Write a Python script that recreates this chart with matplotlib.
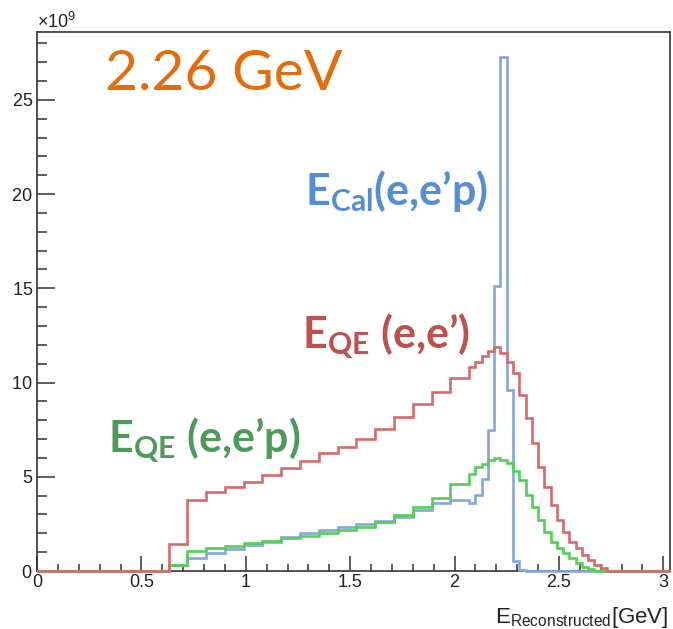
import numpy as np
import matplotlib
matplotlib.use("Agg")
import matplotlib.pyplot as plt
import matplotlib.ticker as ticker

plt.rcParams['font.family'] = ['Liberation Sans', 'DejaVu Sans']
plt.rcParams['mathtext.fontset'] = 'custom'
plt.rcParams['mathtext.rm'] = 'Liberation Sans'
plt.rcParams['mathtext.bf'] = 'Lato:bold'

# bin edges of the reconstructed energy histograms [GeV]
edges = [0.0, 0.63, 0.72, 0.81, 0.90, 0.99, 1.08, 1.17, 1.26, 1.35, 1.44, 1.53,
         1.62, 1.71, 1.80, 1.89, 1.98, 2.07, 2.10, 2.13, 2.16, 2.19, 2.22, 2.25,
         2.28, 2.31, 2.34, 2.37, 2.40, 2.43, 2.46, 2.49, 2.52, 2.55, 2.58, 2.61,
         2.64, 2.67, 2.70, 2.73, 2.76, 3.03]

# bin contents in units of 1e9
e_qe_ee = [0, 1.43, 3.77, 4.2, 4.47, 4.74, 5.09, 5.45, 5.83, 6.24, 6.56, 6.99,
           7.52, 8.15, 8.86, 9.51, 10.22, 10.84, 11.1, 11.4, 11.7, 11.87, 11.55,
           11.1, 10.49, 9.34, 8.1, 6.77, 5.53, 4.47, 3.5, 2.7, 2.08, 1.55, 1.2,
           0.85, 0.58, 0.32, 0.14, 0, 0]
e_qe_eep = [0, 0.33, 1.06, 1.2, 1.33, 1.47, 1.61, 1.73, 1.86, 2.0, 2.18, 2.35,
            2.62, 2.95, 3.38, 3.9, 4.6, 5.15, 5.5, 5.7, 5.9, 5.98, 5.9, 5.72,
            5.3, 4.83, 4.03, 3.41, 2.7, 2.08, 1.55, 1.2, 0.94, 0.67, 0.41, 0.23,
            0.09, 0.02, 0, 0, 0]
e_cal_eep = [0, 0.3, 0.7, 0.95, 1.15, 1.38, 1.56, 1.8, 2.0, 2.15, 2.35, 2.48,
             2.65, 2.85, 3.22, 3.62, 3.75, 3.6, 4.05, 4.9, 7.5, 15.1, 27.3, 9.6,
             0.55, 0.05, 0, 0, 0, 0, 0, 0, 0, 0, 0, 0, 0, 0, 0, 0, 0]
scale = 1e9

fig = plt.figure(figsize=(6.73, 6.29), dpi=100)
ax = fig.add_axes([37/673, 1 - 571/629, 633/673, 539/629])

# histograms sit on top of the frame so the empty bins show along the axis
ax.stairs(np.array(e_cal_eep) * scale, edges, color='#86a6de', lw=1.9,
          zorder=3, clip_on=False)
ax.stairs(np.array(e_qe_eep) * scale, edges, color='#52d052', lw=1.9,
          zorder=3, clip_on=False)
ax.stairs(np.array(e_qe_ee) * scale, edges, color='#d66a6a', lw=1.9,
          zorder=3, clip_on=False)

ax.set_xlim(0, 3.032)
ax.set_ylim(0, 28.6e9)

ax.xaxis.set_major_locator(ticker.MultipleLocator(0.5))
ax.xaxis.set_minor_locator(ticker.MultipleLocator(0.1))
ax.yaxis.set_major_locator(ticker.MultipleLocator(5e9))
ax.yaxis.set_minor_locator(ticker.MultipleLocator(1e9))
ax.xaxis.set_major_formatter(ticker.FuncFormatter(lambda v, p: f'{v:g}'))
fmt_y = ticker.ScalarFormatter(useMathText=True)
fmt_y.set_powerlimits((9, 9))
ax.yaxis.set_major_formatter(fmt_y)
ax.yaxis.get_offset_text().set_fontsize(13)

ax.tick_params(axis='both', which='both', direction='in', colors='#333333',
               labelcolor='#222222', labelsize=13, width=1.1)
ax.tick_params(axis='x', which='major', length=10.5, pad=2)
ax.tick_params(axis='x', which='minor', length=5)
ax.tick_params(axis='y', which='major', length=13, pad=3)
ax.tick_params(axis='y', which='minor', length=7)
for s in ax.spines.values():
    s.set_color('#333333')
    s.set_linewidth(1.2)

# beam energy and the three reconstruction methods
ax.text(0.327, 25.5e9, '2.26 GeV', color='#e46c0a', fontsize=41,
        family='Lato', va='baseline')
ax.text(1.285, 19.4e9, r'$\mathbf{E}_{\mathbf{Cal}}$(e,e’p)', color='#558ed5',
        fontsize=31, family='Lato', weight='bold', va='baseline')
ax.text(1.268, 11.83e9, r'$\mathbf{E}_{\mathbf{QE}}$ (e,e’)', color='#c0504d',
        fontsize=31, family='Lato', weight='bold', va='baseline')
ax.text(0.342, 6.31e9, r'$\mathbf{E}_{\mathbf{QE}}$ (e,e’p)', color='#4e9a5a',
        fontsize=31, family='Lato', weight='bold', va='baseline')

fig.text(668/673, 1 - 623/629, r'$\mathrm{E}_{\mathrm{Reconstructed}}$[GeV]',
         fontsize=16, color='#222222', ha='right', va='baseline')

fig.savefig('out.png', dpi=100, facecolor='white')
